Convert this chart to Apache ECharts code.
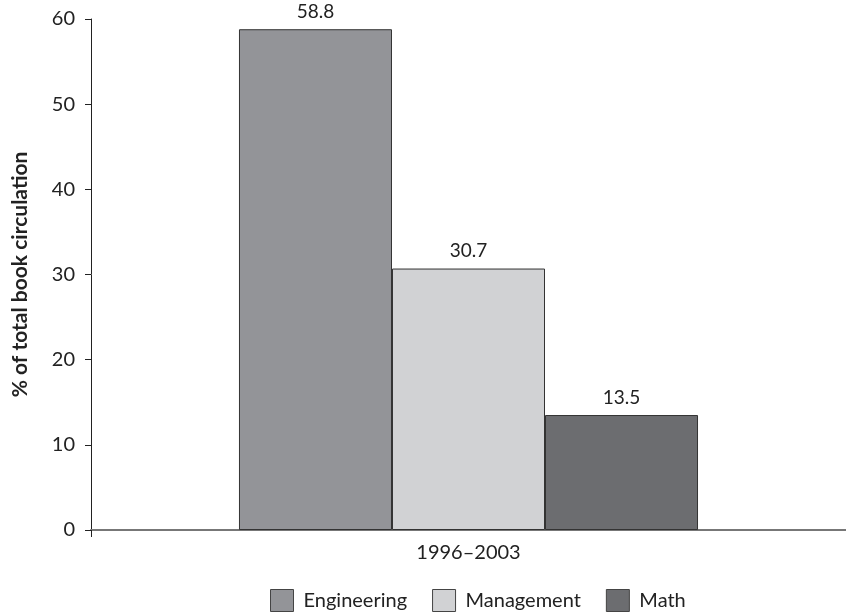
<!DOCTYPE html>
<html>
<head>
<meta charset="utf-8">
<script src="https://cdn.jsdelivr.net/npm/echarts@6/dist/echarts.min.js"></script>
<style>
  html, body { margin: 0; padding: 0; background: #fff; }
  #chart { width: 846px; height: 612px; }
</style>
</head>
<body>
<div id="chart"></div>
<script>
// Share of total book circulation by subject, 1996–2003
const periods = ['1996–2003'];
const subjects = ['Engineering', 'Management', 'Math'];
const engineering = [58.8];
const management = [30.7];
const math = [13.5];
const yTicks = { min: 0, max: 60, step: 10 };

const fills = ['#939498', '#d1d2d4', '#6c6d70'];
const font = 'Lato, "Open Sans", sans-serif';
const seriesValues = [engineering, management, math];

const chart = echarts.init(document.getElementById('chart'), null, { renderer: 'canvas' });

chart.setOption({
  animation: false,
  backgroundColor: '#ffffff',
  textStyle: { fontFamily: font },
  grid: { left: 91, right: 0, top: 19, bottom: 82, containLabel: false },
  legend: {
    data: subjects,
    left: 265,
    top: 584,
    itemWidth: 23,
    itemHeight: 22,
    itemGap: 25,
    icon: 'rect',
    textStyle: { fontFamily: font, fontSize: 20, color: '#222', padding: [0, 0, 0, 5] },
    itemStyle: { borderColor: '#444', borderWidth: 1 }
  },
  xAxis: {
    type: 'category',
    data: periods,
    axisLine: { lineStyle: { color: '#777', width: 2 } },
    axisTick: { show: true, length: 7, lineStyle: { color: '#222', width: 1 } },
    axisLabel: { fontFamily: font, fontSize: 20, color: '#222', margin: 13 }
  },
  yAxis: {
    type: 'value',
    min: yTicks.min,
    max: yTicks.max,
    interval: yTicks.step,
    name: '% of total book circulation',
    nameLocation: 'middle',
    nameGap: 60,
    nameTextStyle: { fontFamily: font, fontSize: 21, fontWeight: 'bold', color: '#222' },
    axisLine: { show: true, lineStyle: { color: '#222', width: 1 } },
    axisTick: { show: true, length: 6, lineStyle: { color: '#222', width: 1 } },
    axisLabel: { fontFamily: font, fontSize: 20, color: '#222', margin: 16 },
    splitLine: { show: false }
  },
  series: subjects.map((name, i) => ({
    name: name,
    type: 'bar',
    data: seriesValues[i],
    barGap: '0%',
    barCategoryGap: '39.2%',
    itemStyle: { color: fills[i], borderColor: '#333', borderWidth: 1 },
    label: {
      show: true,
      position: 'top',
      distance: 8,
      fontFamily: font,
      fontSize: 19,
      color: '#222',
      formatter: p => p.value.toFixed(1)
    }
  }))
});
</script>
</body>
</html>
